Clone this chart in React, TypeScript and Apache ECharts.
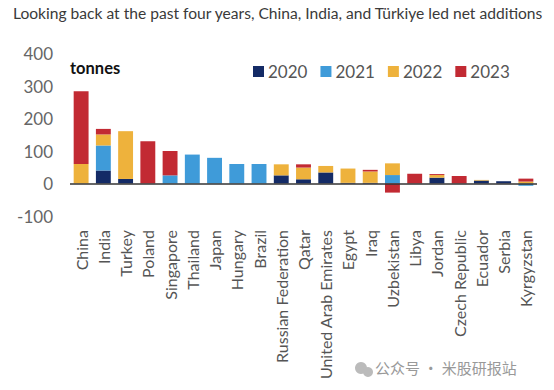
import React, { useEffect, useRef } from "react";
import * as echarts from "echarts";

const categories = [
  "China", "India", "Turkey", "Poland", "Singapore", "Thailand", "Japan", "Hungary", "Brazil",
  "Russian Federation", "Qatar", "United Arab Emirates", "Egypt", "Iraq", "Uzbekistan", "Libya",
  "Jordan", "Czech Republic", "Ecuador", "Serbia", "Kyrgyzstan",
];
const years = ["2020", "2021", "2022", "2023"];
const v2020 = [0, 40, 14, 0, 0, 0, 0, 0, 0, 25, 13, 34, 2, 2, 0, 0, 18, 0, 9, 7, 0];
const v2021 = [0, 77, 0, 0, 25, 89, 79, 60, 60, 0, 0, 0, 0, 0, 26, 0, 0, 0, 0, 0, -7];
const v2022 = [60, 34, 147, 0, 0, 0, 0, 0, 0, 34, 36, 20, 44, 35, 36, 0, 8, 0, 2, 0, 6];
const v2023 = [224, 17, 0, 130, 75, 0, 0, 0, 0, 0, 10, 0, 0, 5, -28, 30, 3, 23, 0, 0, 9];
const yTicks = { min: -100, max: 400, interval: 100 };
const title = "Looking back at the past four years, China, India, and Türkiye led net additions";
const unit = "tonnes";
const watermark = "公众号 · 米股研报站";

const colors = ["#142b66", "#3f9bd9", "#eeb23c", "#c22a33"];
const FONT = "Lato, 'Noto Sans', sans-serif";

export default function App() {
  const ref = useRef<HTMLDivElement>(null);
  useEffect(() => {
    if (!ref.current) return;
    const chart = echarts.init(ref.current, undefined, { renderer: "svg" });
    const values = [v2020, v2021, v2022, v2023];
    chart.setOption({
      animation: false,
      backgroundColor: "#ffffff",
      textStyle: { fontFamily: FONT },
      grid: { left: 70, right: 17, top: 53.5, bottom: 174 },
      legend: {
        data: years,
        left: 248,
        top: 58,
        icon: "rect",
        itemWidth: 11,
        itemHeight: 11,
        itemGap: 13,
        textStyle: { fontSize: 17, color: "#555", fontFamily: FONT, padding: [0, 0, 0, -1] },
      },
      xAxis: {
        type: "category",
        data: categories,
        axisLine: { show: false, onZero: false },
        axisTick: { show: false },
        axisLabel: {
          rotate: 90,
          interval: 0,
          margin: 14,
          fontSize: 16,
          color: "#555",
          fontFamily: FONT,
        },
      },
      yAxis: {
        type: "value",
        min: yTicks.min,
        max: yTicks.max,
        interval: yTicks.interval,
        splitLine: { show: false },
        axisLine: { show: false },
        axisTick: { show: false },
        axisLabel: { fontSize: 17, color: "#666", margin: 17, fontFamily: FONT },
      },
      series: years.map((y, i) => ({
        name: y,
        type: "bar",
        stack: "total",
        barWidth: "67%",
        data: values[i],
        itemStyle: { color: colors[i] },
        markLine:
          i === 0
            ? {
                silent: true,
                symbol: "none",
                label: { show: false },
                lineStyle: { color: "#333", width: 1.5, type: "solid" },
                data: [{ yAxis: 0 }],
              }
            : undefined,
      })),
      graphic: [
        {
          type: "text",
          left: 13,
          top: 5,
          style: { text: title, fontSize: 15.6, fill: "#3a3a3a", fontFamily: FONT },
        },
        {
          type: "text",
          left: 70,
          top: 59,
          style: { text: unit, fontSize: 16.5, fontWeight: "bold", fill: "#111", fontFamily: FONT },
        },
        {
          type: "circle",
          shape: { cx: 361, cy: 368, r: 6 },
          style: { fill: "#bbb" },
        },
        {
          type: "circle",
          shape: { cx: 368, cy: 372, r: 5 },
          style: { fill: "#bbb" },
        },
        {
          type: "text",
          left: 375,
          top: 360,
          style: { text: watermark, fontSize: 15, fill: "#999", fontFamily: "'Noto Sans CJK SC', sans-serif" },
        },
      ],
    });
    return () => chart.dispose();
  }, []);
  return <div ref={ref} style={{ width: 554, height: 390, position: "absolute", left: 0, top: 0 }} />;
}
